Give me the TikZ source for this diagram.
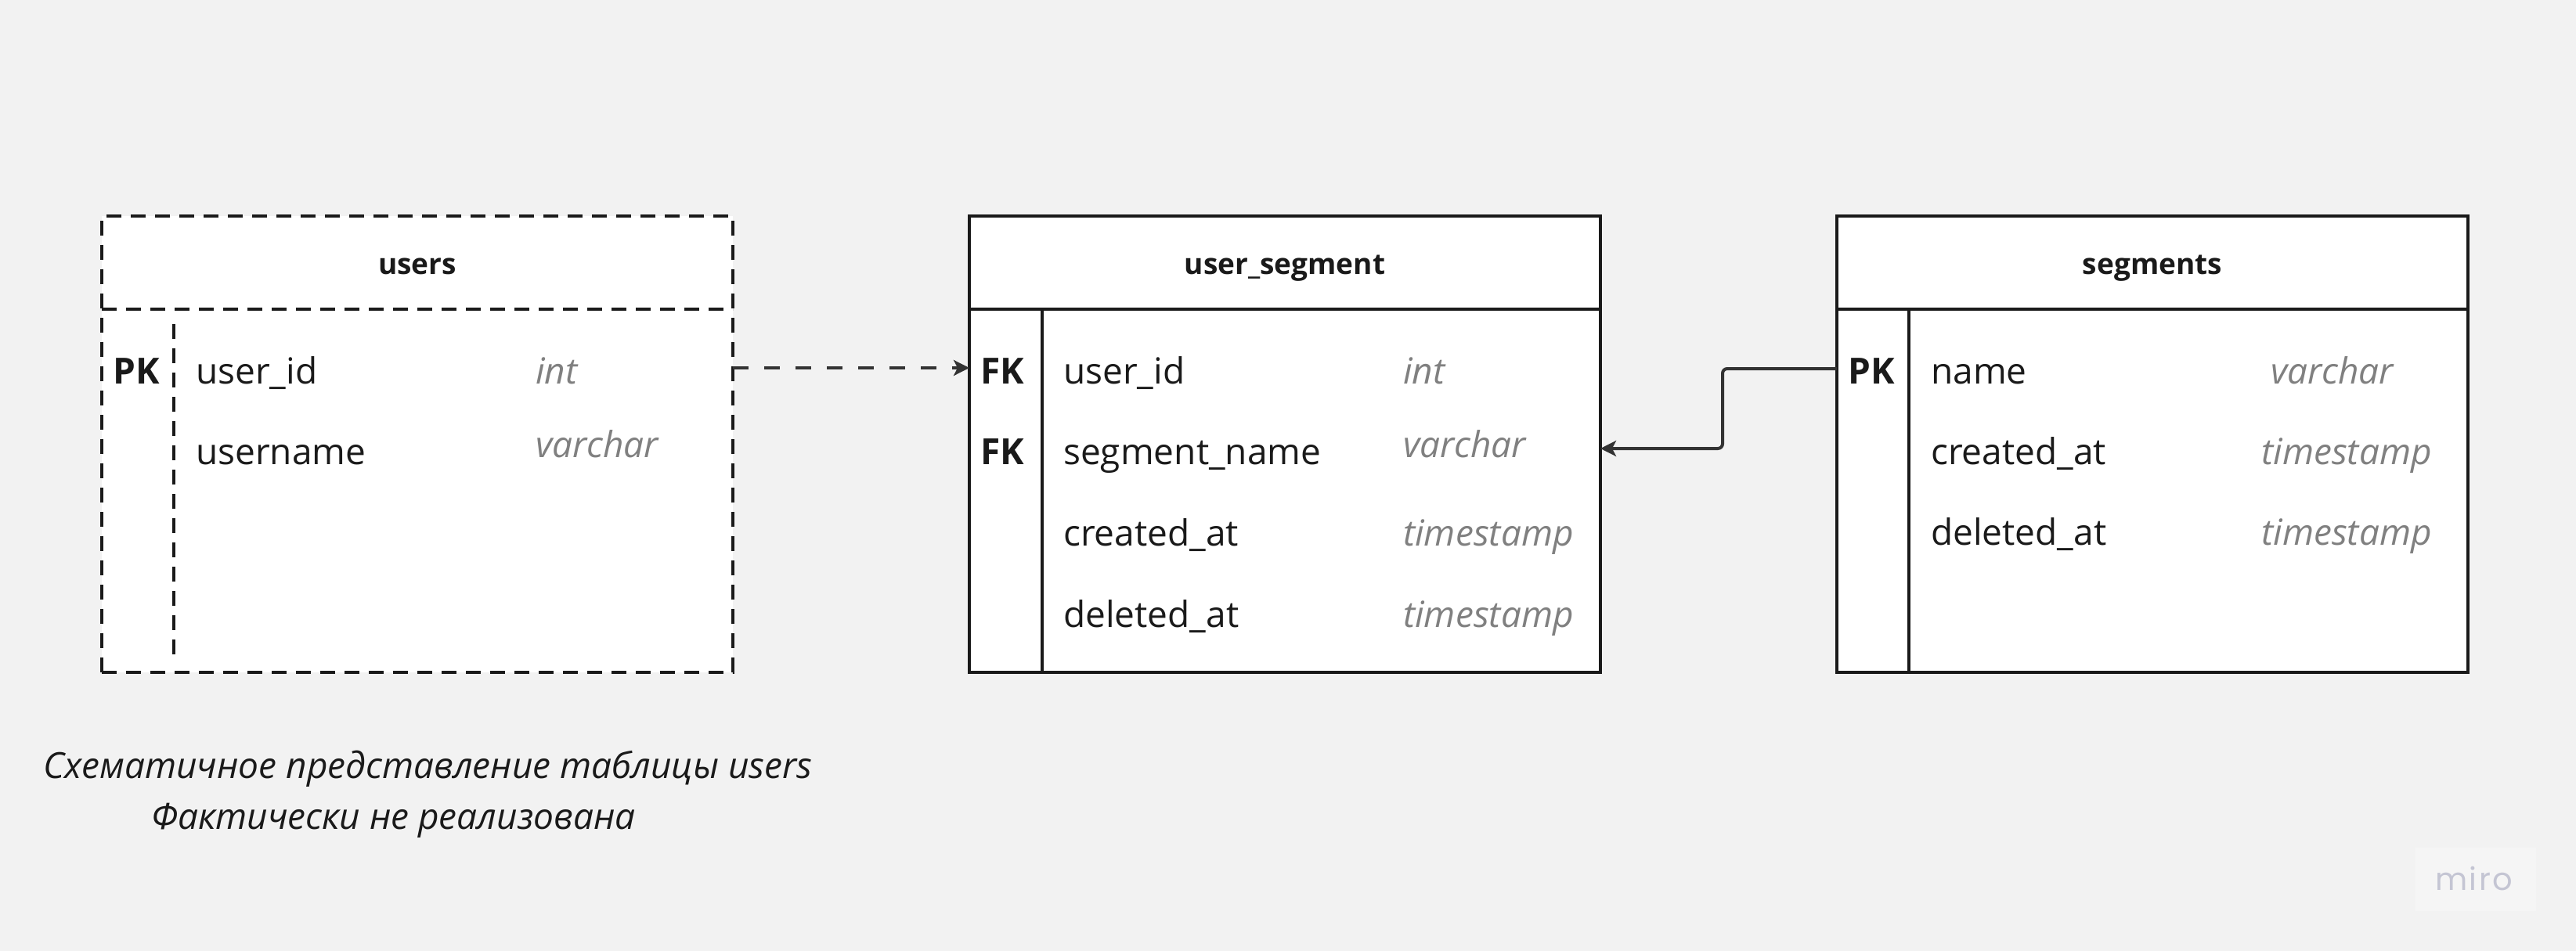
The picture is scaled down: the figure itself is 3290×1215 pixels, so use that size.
\documentclass[tikz,border=0pt]{standalone}
\usepackage{fontspec}
\setmainfont{Open Sans}
\newfontfamily\mirofont{Poppins}[LetterSpace=6.0]
\usetikzlibrary{arrows.meta}
\definecolor{bgc}{HTML}{F2F2F2}
\definecolor{ink}{HTML}{1A1A1A}
\definecolor{connc}{HTML}{333333}
\definecolor{typec}{HTML}{808080}
\definecolor{mirobox}{HTML}{F5F5F5}
\definecolor{miroc}{HTML}{C4C5D3}
\tikzset{
  tbl/.style={draw=ink, fill=white, line width=4pt, minimum width=806pt, minimum height=583pt, anchor=north west, inner sep=0pt, outer sep=0pt},
  tbldash/.style={tbl, dash pattern=on 19pt off 12pt},
  rowline/.style={draw=ink, line width=4pt},
  rowdash/.style={rowline, dash pattern=on 19pt off 12pt},
  tbltitle/.style={font=\fontsize{37}{44}\selectfont\bfseries, text=ink, anchor=base, inner sep=0pt},
  keytxt/.style={font=\fontsize{46}{55}\selectfont\bfseries, text=ink, anchor=base west, inner sep=0pt},
  fldtxt/.style={font=\fontsize{46}{55}\selectfont, text=ink, anchor=base west, inner sep=0pt},
  typtxt/.style={font=\fontsize{46}{55}\selectfont\itshape, text=typec, anchor=base west, inner sep=0pt},
  captxt/.style={font=\fontsize{46}{55}\selectfont\itshape, text=ink, anchor=base west, inner sep=0pt},
  linkarrow/.style={draw=connc, line width=4pt, -{Stealth[length=20pt,width=20pt,inset=5pt]}},
}
\begin{document}
\begin{tikzpicture}[x=1pt,y=-1pt]
\useasboundingbox (0,0) rectangle (3290,1215);
\fill[bgc] (0,0) rectangle (3290,1215);

% users (schematic, dashed)
\node[tbldash] (users) at (130,276) {};
\draw[rowdash] (130,395) -- (936,395);
\draw[rowdash] (222,414) -- (222,844);
\node[tbltitle] (users-t) at (533,350) {users};
\node[keytxt] (users-k1) at (144,490) {PK};
\node[fldtxt] (users-f1) at (250,490) {user\_id};
\node[typtxt] (users-y1) at (684,490) {int};
\node[fldtxt] (users-f2) at (250,593) {username};
\node[typtxt] (users-y2) at (684,584) {varchar};

% user_segment
\node[tbl] (us) at (1238,276) {};
\draw[rowline] (1238,395) -- (2044,395);
\draw[rowline] (1331,395) -- (1331,859);
\node[tbltitle] (us-t) at (1641,350) {user\_segment};
\node[keytxt] (us-k1) at (1252,490) {FK};
\node[keytxt] (us-k2) at (1252,593) {FK};
\node[fldtxt] (us-f1) at (1358,490) {user\_id};
\node[fldtxt] (us-f2) at (1358,593) {segment\_name};
\node[fldtxt] (us-f3) at (1358,697) {created\_at};
\node[fldtxt] (us-f4) at (1358,801) {deleted\_at};
\node[typtxt] (us-y1) at (1792,490) {int};
\node[typtxt] (us-y2) at (1792,584) {varchar};
\node[typtxt] (us-y3) at (1792,697) {timestamp};
\node[typtxt] (us-y4) at (1792,801) {timestamp};

% segments
\node[tbl] (sg) at (2346,276) {};
\draw[rowline] (2346,395) -- (3152,395);
\draw[rowline] (2438,395) -- (2438,859);
\node[tbltitle] (sg-t) at (2749,350) {segments};
\node[keytxt] (sg-k1) at (2360,490) {PK};
\node[fldtxt] (sg-f1) at (2466,490) {name};
\node[fldtxt] (sg-f2) at (2466,593) {created\_at};
\node[fldtxt] (sg-f3) at (2466,696) {deleted\_at};
\node[typtxt] (sg-y1) at (2900,490) {varchar};
\node[typtxt] (sg-y2) at (2888,593) {timestamp};
\node[typtxt] (sg-y3) at (2888,696) {timestamp};

% connectors
\coordinate (u-out) at (936,470);
\coordinate (us-in1) at (1238,470);
\draw[linkarrow, dash pattern=on 20pt off 20pt] (u-out) -- (us-in1);
\coordinate (sg-out) at (2346,471);
\coordinate (us-in2) at (2044,573);
\draw[linkarrow, rounded corners=6pt] (sg-out) -- ++(-146,0) |- (us-in2);

% caption
\node[captxt] (cap1) at (55,994) {Схематичное представление таблицы users};
\node[captxt] (cap2) at (193,1059) {Фактически не реализована};

% miro mark
\fill[mirobox] (3085,1083) rectangle (3239,1164);
\node[font=\mirofont\fontsize{40}{48}\selectfont, text=miroc, anchor=base west, inner sep=0pt] (miro) at (3110,1137) {miro};
\end{tikzpicture}
\end{document}
